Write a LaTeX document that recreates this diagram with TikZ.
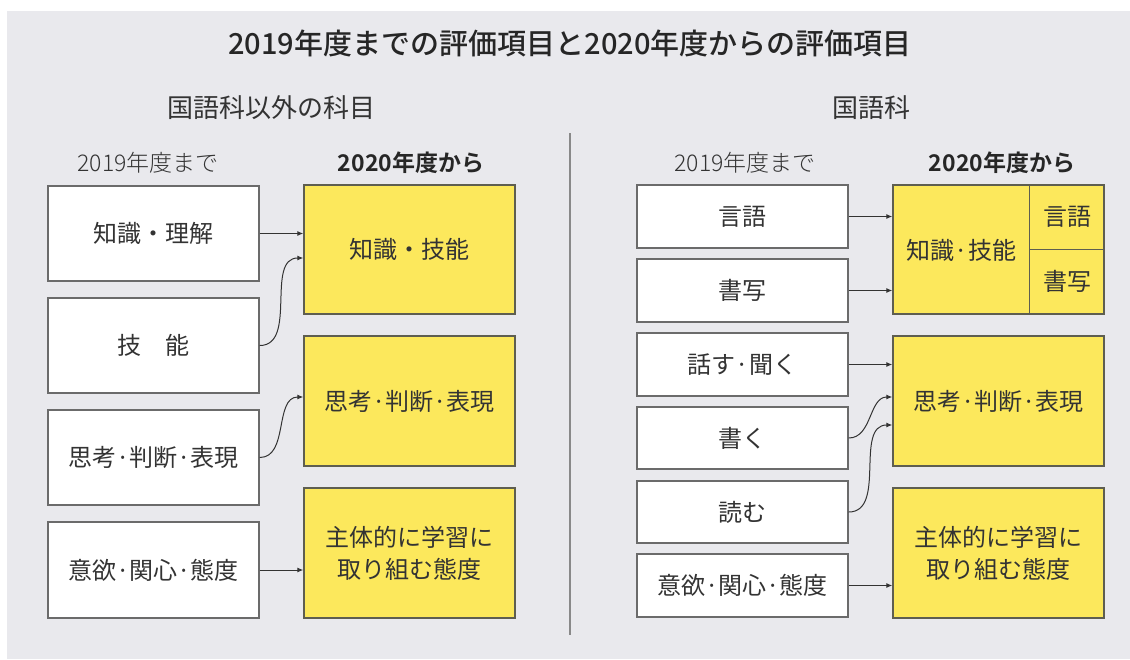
\documentclass[tikz,border=0pt]{standalone}
\usepackage{fontspec}
\setmainfont{Noto Sans CJK JP}[BoldFont={Noto Sans CJK JP Bold}]
\newfontfamily\medfont{Noto Sans CJK JP Medium}
\newfontfamily\lightfont{Noto Sans CJK JP Light}
\usetikzlibrary{arrows.meta,calc}
\definecolor{bg}{HTML}{E9E9ED}
\definecolor{ylw}{HTML}{FCE85C}
\definecolor{bord}{HTML}{6B6B6B}
\definecolor{ybord}{HTML}{5E5E50}
\definecolor{txt}{HTML}{333333}
\begin{document}
\begin{tikzpicture}[x=1pt,y=-1pt,
  oldbox/.style={draw=bord, line width=1.4pt, fill=white, minimum width=211pt, inner sep=0pt,
    text=txt, font=\fontsize{24}{30}\selectfont},
  newbox/.style={draw=ybord, line width=1.4pt, fill=ylw, minimum width=211pt, inner sep=0pt,
    text=txt, font=\fontsize{24}{32}\selectfont, align=center},
  ylabel/.style={inner sep=0pt, text=txt, font=\fontsize{24}{30}\selectfont},
  conn/.style={draw=txt, line width=1pt, -{Latex[length=6pt,width=5pt]}},
  head/.style={inner sep=0pt, text=txt, font=\fontsize{26}{30}\selectfont},
  sub/.style={inner sep=0pt, text=txt, font=\fontsize{23}{28}\lightfont},
  subb/.style={inner sep=0pt, text=black!85, font=\fontsize{23}{28}\selectfont\bfseries}
]
\useasboundingbox (0,0) rectangle (1130,659);
\fill[white] (0,0) rectangle (1130,659);
\fill[bg] (7,11) rectangle (1130,659);

% titles
\node[inner sep=0pt, text=black!85, font=\fontsize{29}{32}\medfont] (title) at (570,43)
  {2019年度までの評価項目と2020年度からの評価項目};
\node[head] (h1) at (271,108) {国語科以外の科目};
\node[head] (h2) at (871,108) {国語科};
\node[sub] (s1) at (148,163) {2019年度まで};
\node[subb] (s2) at (411,163) {2020年度から};
\node[sub] (s3) at (745,163) {2019年度まで};
\node[subb] (s4) at (1002,163) {2020年度から};

% divider
\coordinate (dtop) at (570,133);
\coordinate (dbot) at (570,635);
\draw[bord!80, line width=1.6pt] (dtop) -- (dbot);

% left panel
\node[oldbox, minimum height=95pt] (a1) at (153.5,233.5) {知識・理解};
\node[oldbox, minimum height=95pt] (a2) at (153.5,345.5) {技　能};
\node[oldbox, minimum height=95pt] (a3) at (153.5,457.5) {思考·判断·表現};
\node[oldbox, minimum height=96pt] (a4) at (153.5,570) {意欲·関心·態度};

\node[newbox, minimum height=129pt] (b1) at (409.5,249.5) {知識・技能};
\node[newbox, minimum height=130pt] (b2) at (409.5,401) {思考·判断·表現};
\node[newbox, minimum height=130pt] (b3) at (409.5,553) {主体的に学習に\\取り組む態度};

\draw[conn] (a1.east) -- (a1.east -| b1.west);
\draw[conn] (a2.east) to[out=0,in=180] ($(b1.west)+(0,8.5)$);
\draw[conn] (a3.east) to[out=0,in=180] ($(b2.west)+(0,-4)$);
\draw[conn] (a4.east) -- (a4.east -| b3.west);

% right panel
\node[oldbox, minimum height=63pt] (c1) at (742.5,216.5) {言語};
\node[oldbox, minimum height=63pt] (c2) at (742.5,290.5) {書写};
\node[oldbox, minimum height=63pt] (c3) at (742.5,364.5) {話す·聞く};
\node[oldbox, minimum height=62pt] (c4) at (742.5,438) {書く};
\node[oldbox, minimum height=62pt] (c5) at (742.5,512) {読む};
\node[oldbox, minimum height=63pt] (c6) at (742.5,585.5) {意欲·関心·態度};

\node[newbox, minimum height=129pt] (d1) at (998.5,249.5) {};
\coordinate (dv) at ($(d1.north west)+(137,0)$);
\draw[ybord, line width=1.4pt] (dv) -- (dv |- d1.south);
\draw[ybord, line width=1.4pt] (dv |- d1.east) -- (d1.east);
\node[ylabel] (d1a) at (961.5,250) {知識·技能};
\node[ylabel] (d1b) at (1067,217) {言語};
\node[ylabel] (d1c) at (1067,281) {書写};
\node[newbox, minimum height=130pt] (d2) at (998.5,401) {思考·判断·表現};
\node[newbox, minimum height=130pt] (d3) at (998.5,553) {主体的に学習に\\取り組む態度};

\draw[conn] (c1.east) -- (c1.east -| d1.west);
\draw[conn] (c2.east) -- (c2.east -| d1.west);
\draw[conn] (c3.east) -- (c3.east -| d2.west);
\draw[conn] (c4.east) to[out=0,in=180] ($(d2.west)+(0,-4)$);
\draw[conn] (c5.east) to[out=0,in=180] ($(d2.west)+(0,24)$);
\draw[conn] (c6.east) -- (c6.east -| d3.west);
\end{tikzpicture}
\end{document}
